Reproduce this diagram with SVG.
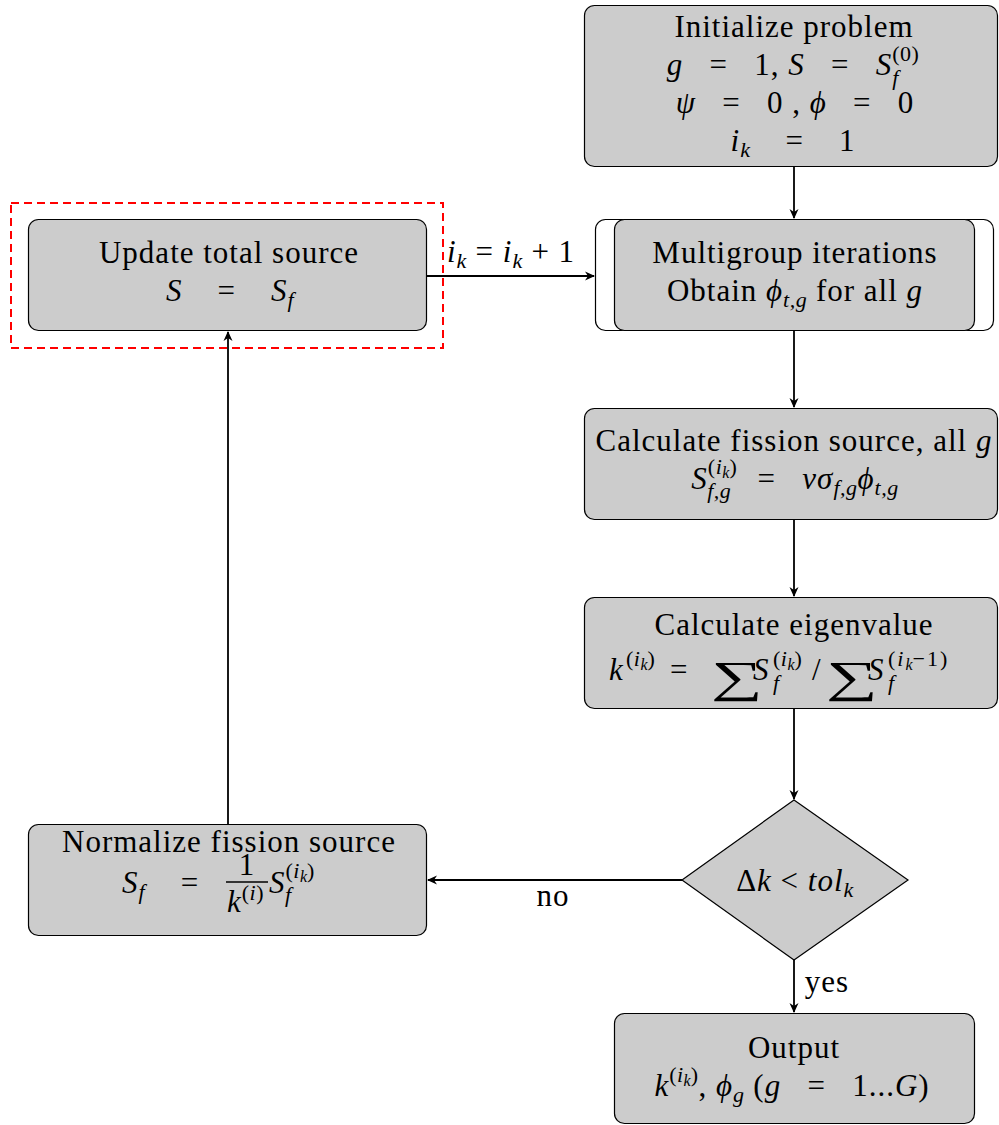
<svg xmlns="http://www.w3.org/2000/svg" width="999" height="1125" viewBox="0 0 999 1125">
<style>
.t{font-size:31px;letter-spacing:1px;fill:#000}
.i{font-style:italic}
.s{font-size:22px;letter-spacing:0.5px}
.ss{font-size:16px;letter-spacing:0px}
.sum{font-size:44px;letter-spacing:0px}
.box{fill:#cccccc;stroke:#000;stroke-width:1.2}
.conn{stroke:#000;stroke-width:1.8;fill:none;marker-end:url(#ah)}
</style>
<defs>
<marker id="ah" viewBox="0 0 10 10" refX="9" refY="5" markerWidth="10" markerHeight="10" orient="auto" markerUnits="userSpaceOnUse">
<path d="M0,0.5 L10,5 L0,9.5 L3,5 z" fill="#000"/>
</marker>
</defs>
<rect width="999" height="1125" fill="#fff"/>
<g font-family="Liberation Serif, DejaVu Serif, serif">

<g id="init">
<rect class="box" x="584.5" y="5.5" width="413" height="161" rx="10"/>
<text class="t" x="794" y="37" text-anchor="middle">Initialize problem</text>
<text class="t" x="793" y="75" text-anchor="middle"><tspan class="i">g</tspan>&#160;&#160;&#160;=&#160;&#160;&#160;1, <tspan class="i">S</tspan>&#160;&#160;&#160;=&#160;&#160;&#160;<tspan class="i">S</tspan><tspan class="s" dy="-14">(0)</tspan><tspan class="s i" dx="-27" dy="24">f</tspan><tspan class="s" dx="19" dy="-10"> </tspan></text>
<text class="t" x="795" y="113" text-anchor="middle"><tspan class="i">ψ</tspan>&#160;&#160;&#160;=&#160;&#160;&#160;0&#160;, <tspan class="i">ϕ</tspan>&#160;&#160;&#160;=&#160;&#160;&#160;0</text>
<text class="t" x="793" y="151" text-anchor="middle"><tspan class="i">i</tspan><tspan class="s i" dy="6">k</tspan><tspan dy="-6">&#160;&#160;&#160;&#160;=&#160;&#160;&#160;&#160;1</tspan></text>
</g>

<g id="update">
<rect x="11" y="203" width="432" height="145" fill="none" stroke="#ff0000" stroke-width="2" stroke-dasharray="8,5"/>
<rect class="box" x="28.5" y="219.5" width="398" height="111" rx="10"/>
<text class="t" x="229" y="263" text-anchor="middle">Update total source</text>
<text class="t" x="230" y="301" text-anchor="middle"><tspan class="i">S</tspan>&#160;&#160;&#160;&#160;=&#160;&#160;&#160;&#160;<tspan class="i">S</tspan><tspan class="s i" dy="6">f</tspan></text>
</g>

<g id="multigroup">
<rect x="595.5" y="219.5" width="398" height="111" rx="10" fill="#fff" stroke="#000" stroke-width="1.2"/>
<rect class="box" x="614.5" y="219.5" width="360" height="111" rx="10"/>
<text class="t" x="795" y="263" text-anchor="middle">Multigroup iterations</text>
<text class="t" x="795" y="301" text-anchor="middle">Obtain <tspan class="i">ϕ</tspan><tspan class="s i" dy="6">t,g</tspan><tspan dy="-6"> for all </tspan><tspan class="i">g</tspan></text>
</g>

<g id="fission">
<rect class="box" x="584.5" y="408.5" width="413" height="111" rx="10"/>
<text class="t" x="794" y="451" text-anchor="middle">Calculate fission source, all <tspan class="i">g</tspan></text>
<text class="t" x="795" y="489" text-anchor="middle"><tspan class="i">S</tspan><tspan class="s" dy="-15">(<tspan class="i">i</tspan><tspan class="ss i" dy="4">k</tspan><tspan dy="-4">)</tspan></tspan><tspan class="s i" dx="-30" dy="24">f,g</tspan><tspan dy="-9">&#160;&#160;&#160;=&#160;&#160;&#160;</tspan><tspan class="i">νσ</tspan><tspan class="s i" dy="6">f,g</tspan><tspan class="i" dy="-6">ϕ</tspan><tspan class="s i" dy="6">t,g</tspan></text>
</g>

<g id="eigen">
<rect class="box" x="584.5" y="597.5" width="413" height="111" rx="10"/>
<text class="t" x="794" y="635" text-anchor="middle">Calculate eigenvalue</text>
<text class="t i" x="609" y="680">k</text>
<text class="t s" x="626" y="666">(<tspan class="i">i</tspan><tspan class="ss i" dy="4">k</tspan><tspan dy="-4">)</tspan></text>
<text class="t" x="670" y="680">=</text>
<text class="t sum" transform="translate(711,692) scale(1.65,1)" x="0" y="0">∑</text>
<text class="t i" x="753" y="680">S</text>
<text class="t s" x="773" y="666">(<tspan class="i">i</tspan><tspan class="ss i" dy="4">k</tspan><tspan dy="-4">)</tspan></text>
<text class="t s i" x="773" y="690">f</text>
<text class="t" x="812" y="680">/</text>
<text class="t sum" transform="translate(826,692) scale(1.65,1)" x="0" y="0">∑</text>
<text class="t i" x="868" y="680">S</text>
<text class="t s" x="888" y="666" style="letter-spacing:2px">(<tspan class="i">i</tspan><tspan class="ss i" dy="4">k</tspan><tspan dy="-4">−1)</tspan></text>
<text class="t s i" x="888" y="690">f</text>
</g>

<g id="decision">
<polygon class="box" points="794,800 908,880 794,960 682,880"/>
<text class="t" x="795" y="891" text-anchor="middle">Δ<tspan class="i">k</tspan> &lt; <tspan class="i">tol</tspan><tspan class="s i" dy="6">k</tspan></text>
</g>

<g id="normalize">
<rect class="box" x="28.5" y="824.5" width="398" height="111" rx="10"/>
<text class="t" x="229" y="852" text-anchor="middle">Normalize fission source</text>
<text class="t" x="122" y="893"><tspan class="i">S</tspan><tspan class="s i" dy="6">f</tspan></text>
<text class="t" x="190" y="893" text-anchor="middle">=</text>
<text class="t" x="247" y="875" text-anchor="middle">1</text>
<line x1="226" y1="882" x2="268" y2="882" stroke="#000" stroke-width="1.3"/>
<text class="t" x="227" y="912"><tspan class="i">k</tspan><tspan class="s" dy="-12">(<tspan class="i">i</tspan>)</tspan></text>
<text class="t" x="269" y="893"><tspan class="i">S</tspan><tspan class="s" dy="-15">(<tspan class="i">i</tspan><tspan class="ss i" dy="4">k</tspan><tspan dy="-4">)</tspan></tspan><tspan class="s i" dx="-30" dy="24">f</tspan></text>
</g>

<g id="output">
<rect class="box" x="614.5" y="1013.5" width="360" height="110" rx="10"/>
<text class="t" x="794" y="1058" text-anchor="middle">Output</text>
<text class="t" x="792" y="1096" text-anchor="middle"><tspan class="i">k</tspan><tspan class="s" dy="-14">(<tspan class="i">i</tspan><tspan class="ss i" dy="4">k</tspan><tspan dy="-4">)</tspan></tspan><tspan dy="14">, </tspan><tspan class="i">ϕ</tspan><tspan class="s i" dy="6">g</tspan><tspan dy="-6"> (</tspan><tspan class="i">g</tspan>&#160;&#160;&#160;=&#160;&#160;&#160;1...<tspan class="i">G</tspan>)</text>
</g>

<g id="connectors">
<line class="conn" x1="794" y1="167" x2="794" y2="218"/>
<line class="conn" x1="794" y1="331" x2="794" y2="407"/>
<line class="conn" x1="794" y1="520" x2="794" y2="596"/>
<line class="conn" x1="794" y1="709" x2="794" y2="799"/>
<line class="conn" x1="794" y1="960" x2="794" y2="1012"/>
<line class="conn" x1="682" y1="880" x2="428" y2="880"/>
<line class="conn" x1="228" y1="824" x2="228" y2="332"/>
<line class="conn" x1="427" y1="276" x2="594" y2="276"/>
<text class="t" x="511" y="262" text-anchor="middle"><tspan class="i">i</tspan><tspan class="s i" dy="6">k</tspan><tspan dy="-6"> = </tspan><tspan class="i">i</tspan><tspan class="s i" dy="6">k</tspan><tspan dy="-6"> + 1</tspan></text>
<text class="t" x="553" y="906" text-anchor="middle">no</text>
<text class="t" x="827" y="992" text-anchor="middle">yes</text>
</g>
</g>
</svg>
